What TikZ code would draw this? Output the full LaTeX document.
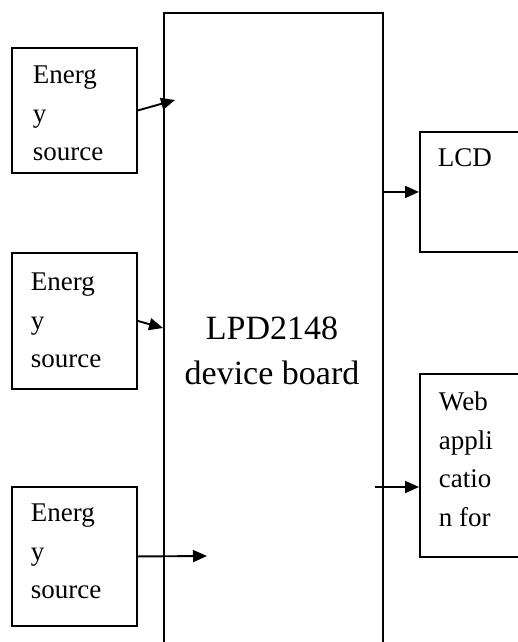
\documentclass[tikz,border=0pt]{standalone}
\usepackage{fontspec}
\setmainfont{Liberation Serif}
\usetikzlibrary{arrows.meta}

\begin{document}
\begin{tikzpicture}[x=1pt,y=-1pt,->,>={Triangle[length=14pt,width=12pt]},line width=1.9pt,every node/.style={inner sep=0pt},blk/.style={draw, rectangle, anchor=north west},txt/.style={anchor=north west, align=left, font=\fontsize{27}{38.5}\selectfont}]
\clip (0,0) rectangle (518,642);
\node[blk, minimum width=125pt, minimum height=125pt] (src1) at (11,47) {};
\node[blk, minimum width=125pt, minimum height=136pt] (src2) at (11,252) {};
\node[blk, minimum width=125pt, minimum height=139pt] (src3) at (11,486) {};
\node[blk, minimum width=219pt, minimum height=660pt] (board) at (163,12) {};
\node[blk, minimum width=120pt, minimum height=120pt] (lcd) at (419,131) {};
\node[blk, minimum width=120pt, minimum height=183pt] (web) at (419,373) {};
\node[txt] (src1txt) at (32,65) {Energ\\y\\source};
\node[txt] (src2txt) at (30,272) {Energ\\y\\source};
\node[txt] (src3txt) at (30,503) {Energ\\y\\source};
\node[anchor=north, align=center, font=\fontsize{34}{45}\selectfont] (boardtxt) at (272,316) {LPD2148\\device board};
\node[txt] (lcdtxt) at (437,148) {LCD};
\node[txt] (webtxt) at (438,391) {Web\\appli\\catio\\n for};
\coordinate (in1) at (175,100);
\coordinate (in2) at (163,328);
\coordinate (in3) at (207,556);
\coordinate (out2) at (375,487);
\path (src1.east) edge (in1);
\path (src2.east) edge (in2);
\path (src3.east) edge (in3);
\path (board.east |- lcd.west) edge (lcd.west);
\path (out2) edge (web.west |- out2);
\end{tikzpicture}
\end{document}
